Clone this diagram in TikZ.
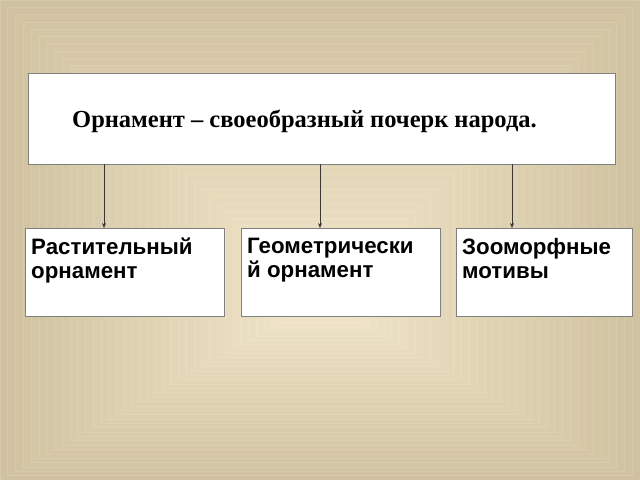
\documentclass[tikz,border=0pt]{standalone}
\usepackage{fontspec}
\setmainfont{Liberation Serif}
\newfontfamily\arialfont{Liberation Sans}
\usetikzlibrary{arrows.meta}
\definecolor{bgout}{RGB}{208,194,160}
\definecolor{bgin}{RGB}{242,230,202}
\definecolor{boxline}{RGB}{128,128,128}
\definecolor{arrowline}{RGB}{60,55,50}
\tikzset{
  boxnode/.style={draw=boxline, line width=1.2pt, fill=white, rectangle, inner sep=0pt, anchor=north west},
  subtext/.style={anchor=north west, inner sep=0pt, align=left, font=\arialfont\bfseries\fontsize{22.3}{24}\selectfont},
  link/.style={draw=arrowline, line width=0.8pt, -{Stealth[length=5pt,width=4pt]}}
}
\begin{document}
\begin{tikzpicture}[x=1pt,y=-1pt]
\useasboundingbox (0,0) rectangle (640,480);
% background: concentric frames
\foreach \i in {0,...,40}{
  \pgfmathsetmacro{\t}{\i/40}
  \pgfmathsetmacro{\pc}{100*\t}
  \colorlet{cc}{bgin!\pc!bgout}
  \fill[cc] ({320*\t*0.97},{300*\t*0.97}) rectangle ({640-320*\t*0.97},{480-180*\t*0.97});
  \draw[white, opacity=0.12, line width=0.6pt] ({320*\t*0.97},{300*\t*0.97}) rectangle ({640-320*\t*0.97},{480-180*\t*0.97});
}
% boxes
\node[boxnode, minimum width=587pt, minimum height=91pt] (top) at (28,73) {};
\node[anchor=base west, inner sep=0pt, font=\bfseries\fontsize{24.5}{28}\selectfont] (toptext) at (72,127) {Орнамент – своеобразный почерк народа.};
\node[boxnode, minimum width=199pt, minimum height=88pt] (b1) at (25,228) {};
\node[boxnode, minimum width=199pt, minimum height=88pt] (b2) at (241,228) {};
\node[boxnode, minimum width=176pt, minimum height=88pt] (b3) at (456,228) {};
\node[subtext] (t1) at (31,238) {Растительный\\орнамент};
\node[subtext] (t2) at (247,238) {Геометрически\\й орнамент};
\node[subtext] (t3) at (462,238) {Зооморфные\\мотивы};
% connectors
\coordinate (a1) at (104,164);
\coordinate (a2) at (320,164);
\coordinate (a3) at (512,164);
\draw[link] (a1) -- (a1 |- b1.north);
\draw[link] (a2) -- (a2 |- b2.north);
\draw[link] (a3) -- (a3 |- b3.north);
\end{tikzpicture}
\end{document}
